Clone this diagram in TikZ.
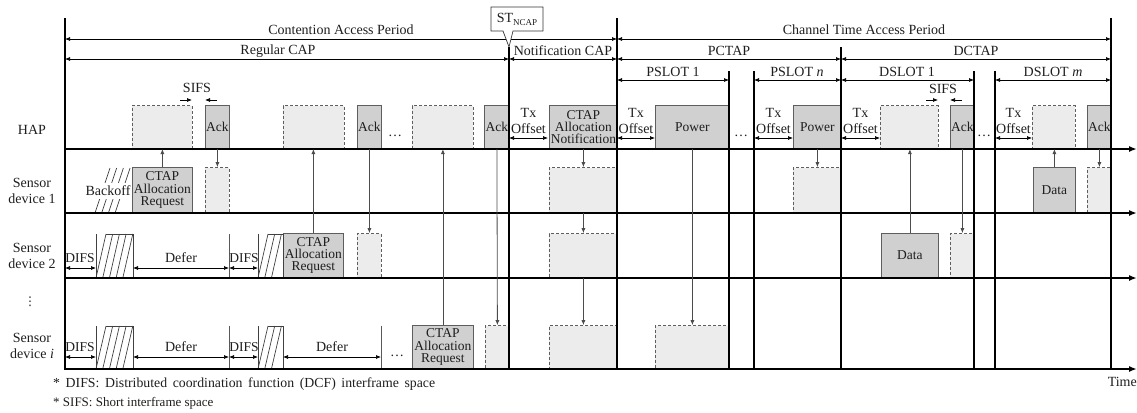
\documentclass[tikz,border=0pt]{standalone}
\usepackage{fontspec}
\setmainfont{Liberation Serif}
\newfontfamily\djv{DejaVu Sans}
\usetikzlibrary{arrows.meta}
\definecolor{gfill}{HTML}{D0D0D0}
\definecolor{gdraw}{HTML}{5E5E5E}
\definecolor{dfill}{HTML}{ECECEC}
\definecolor{ink}{HTML}{1E1E1E}
\newcommand\hatchbox[5]{%
  \draw[hatchline] (#1,#3)--(#1,#4) (#2,#3)--(#2,#4) (#1+10,#3)--(#2,#3);
  \foreach \k in {1,...,#5} \draw[hatchline] ({#1+(\k-1)*6.7},#4) -- ({#1+10+(\k-1)*6.7},#3);}
\begin{document}
\begin{tikzpicture}[x=1pt,y=-1pt,
  every node/.style={font=\fontsize{14}{14}\selectfont, text=ink, inner sep=0pt},
  tlaxis/.style={line width=1.8pt, draw=black, -{Latex[length=8pt,width=6pt]}},
  perline/.style={line width=1.5pt, draw=black},
  tickline/.style={line width=0.7pt, draw=black!65},
  dimline/.style={line width=0.7pt, draw=black, {Latex[length=5pt,width=4pt]}-{Latex[length=5pt,width=4pt]}},
  sigarrow/.style={line width=0.8pt, draw=black!70, -{Latex[length=5pt,width=4pt]}},
  hatchline/.style={line width=0.7pt, draw=black!75},
  gbox/.style={draw=gdraw, fill=gfill, line width=0.8pt, anchor=south west, align=center, font=\fontsize{13.5}{12.3}\selectfont},
  dbox/.style={draw=gdraw, fill=dfill, dash pattern=on 3pt off 2pt, line width=0.8pt, anchor=south west},
  lab/.style={align=center, font=\fontsize{14}{16}\selectfont},
]
\useasboundingbox (0,0) rectangle (1137,412);
\coordinate (hapy) at (0,149);

% ---------- Backoff (sensor 1)
\foreach \k in {0,...,3} \draw[hatchline] ({95+6.7*\k},213) -- ({110+6.7*\k},168);
\node[fill=white, inner xsep=0.5pt, inner ysep=3pt] (bo) at (108,191) {Backoff};

% ---------- HAP row boxes
\node[dbox, minimum width=60, minimum height=43] (hd1) at (132,149) {};
\node[gbox, minimum width=24, minimum height=43] (ha1) at (205,149) {Ack};
\node[dbox, minimum width=61, minimum height=43] (hd2) at (283,149) {};
\node[gbox, minimum width=24, minimum height=43] (ha2) at (357,149) {Ack};
\node[dbox, minimum width=61, minimum height=43] (hd3) at (412,149) {};
\node[gbox, minimum width=25, minimum height=43] (ha3) at (484,149) {Ack};
\node[gbox, minimum width=68, minimum height=43] (hn) at (549,149) {CTAP\\Allocation\\Notification};
\node[gbox, minimum width=74, minimum height=43] (hp1) at (655,149) {Power};
\node[gbox, minimum width=48, minimum height=43] (hpn) at (793,149) {Power};
\node[dbox, minimum width=58, minimum height=43] (hd4) at (880,149) {};
\node[gbox, minimum width=24, minimum height=43] (ha4) at (950,149) {Ack};
\node[dbox, minimum width=43, minimum height=43] (hd5) at (1032,149) {};
\node[gbox, minimum width=24, minimum height=43] (ha5) at (1087,149) {Ack};

% ---------- Sensor 1 boxes
\node[gbox, minimum width=60, minimum height=45] (s1r) at (132,213) {CTAP\\Allocation\\Request};
\node[dbox, minimum width=24, minimum height=45] (s1a) at (205,213) {};
\node[dbox, minimum width=68, minimum height=45] (s1n) at (549,213) {};
\node[dbox, minimum width=48, minimum height=45] (s1p) at (793,213) {};
\node[gbox, minimum width=42, minimum height=45] (s1d) at (1033,213) {Data};
\node[dbox, minimum width=24, minimum height=45] (s1k) at (1087,213) {};

% ---------- Sensor 2 boxes
\node[gbox, minimum width=60, minimum height=44] (s2r) at (283,278) {CTAP\\Allocation\\Request};
\node[dbox, minimum width=24, minimum height=44] (s2a) at (357,278) {};
\node[dbox, minimum width=68, minimum height=44] (s2n) at (549,278) {};
\node[gbox, minimum width=57, minimum height=44] (s2d) at (881,278) {Data};
\node[dbox, minimum width=24, minimum height=44] (s2k) at (950,278) {};

% ---------- Sensor i boxes
\node[gbox, minimum width=61, minimum height=43] (sir) at (412,369) {CTAP\\Allocation\\Request};
\node[dbox, minimum width=24, minimum height=43] (sia) at (485,369) {};
\node[dbox, minimum width=68, minimum height=43] (sin) at (549,369) {};
\node[dbox, minimum width=74, minimum height=43] (sip) at (655,369) {};

% ---------- hatched contention windows
\hatchbox{96}{133}{234}{278}{5}
\hatchbox{258}{283}{234}{278}{3}
\hatchbox{96}{133}{326}{369}{5}
\hatchbox{258}{283}{326}{369}{3}
\draw[tickline] (229,234) -- (229,278);
\draw[tickline] (229,326) -- (229,369);
\draw[tickline] (381,326) -- (381,369);

% ---------- period lines
\draw[perline] (65,18) -- (65,370);
\draw[perline] (509,47) -- (509,369);
\draw[perline] (617,18) -- (617,369);
\draw[perline] (729,71) -- (729,369);
\draw[perline] (754,71) -- (754,369);
\draw[perline] (841,47) -- (841,369);
\draw[perline] (974,71) -- (974,369);
\draw[perline] (995,71) -- (995,369);
\draw[perline] (1111,18) -- (1111,369);

% ---------- time axes
\draw[tlaxis] (64,149) -- (1137,149);
\draw[tlaxis] (64,213) -- (1137,213);
\draw[tlaxis] (64,278) -- (1137,278);
\draw[tlaxis] (64,369) -- (1137,369);

% ---------- period dimension lines
\draw[dimline] (65,39) -- (617,39);
\node (tcap) at (341,30) {Contention Access Period};
\draw[dimline] (617,39) -- (1111,39);
\node (tctap) at (864,30) {Channel Time Access Period};
\draw[dimline] (65,59) -- (509,59);
\node (treg) at (278,51) {Regular CAP};
\draw[dimline] (509,59) -- (617,59);
\node (tnot) at (563,51) {Notification CAP};
\draw[dimline] (617,59) -- (841,59);
\node (tp) at (729,51) {PCTAP};
\draw[dimline] (841,59) -- (1111,59);
\node (td) at (976,51) {DCTAP};
\draw[dimline] (617,80) -- (729,80);
\node (tps1) at (673,72) {PSLOT 1};
\draw[dimline] (754,80) -- (841,80);
\node (tpsn) at (797,72) {PSLOT \textit{n}};
\draw[dimline] (841,80) -- (974,80);
\node (tds1) at (907,72) {DSLOT 1};
\draw[dimline] (995,80) -- (1111,80);
\node (tdsm) at (1053,72) {DSLOT \textit{m}};

% ---------- ST_NCAP callout
\draw[fill=white, line width=0.7pt, draw=black!80] (491,7) -- (543,7) -- (543,31) -- (513,31) -- (509,47) -- (503,31) -- (491,31) -- cycle;
\node (st) at (517,19) {ST\raisebox{-3pt}{\fontsize{9}{9}\selectfont NCAP}};

% ---------- Tx offsets
\foreach \a/\b/\n in {509/548/o1, 617/655/o2, 754/793/o3, 841/880/o4, 995/1032/o5}{
  \draw[dimline] (\a,138) -- (\b,138);
  \node (\n tx) at ({(\a+\b)/2},113) {Tx};
  \node (\n off) at ({(\a+\b)/2},129) {Offset};
}

% ---------- SIFS
\node (sifs1) at (197,88) {SIFS};
\draw[line width=0.7pt, -{Latex[length=5pt,width=4pt]}] (180,100) -- (192,100);
\draw[line width=0.7pt, -{Latex[length=5pt,width=4pt]}] (217,100) -- (205,100);
\node (sifs2) at (943,89) {SIFS};
\draw[line width=0.7pt, -{Latex[length=5pt,width=4pt]}] (926,100) -- (938,100);
\draw[line width=0.7pt, -{Latex[length=5pt,width=4pt]}] (962,100) -- (950,100);

% ---------- dots
\node (dd1) at (395,136) {\ldots};
\node (dd2) at (741,136) {\ldots};
\node (dd3) at (984,136) {\ldots};
\node (dd4) at (397,356) {\ldots};

% ---------- DIFS / Defer
\draw[dimline] (65,268) -- (96,268);   \node[font=\fontsize{13.5}{13.5}\selectfont] (df1) at (80,258) {DIFS};
\draw[dimline] (133,268) -- (229,268); \node (de1) at (181,258) {Defer};
\draw[dimline] (229,268) -- (258,268); \node[font=\fontsize{13.5}{13.5}\selectfont] (df2) at (244,258) {DIFS};
\draw[dimline] (65,357) -- (96,357);   \node[font=\fontsize{13.5}{13.5}\selectfont] (df3) at (80,347) {DIFS};
\draw[dimline] (133,357) -- (229,357); \node (de2) at (181,347) {Defer};
\draw[dimline] (229,357) -- (258,357); \node[font=\fontsize{13.5}{13.5}\selectfont] (df4) at (244,347) {DIFS};
\draw[dimline] (283,357) -- (381,357); \node (de3) at (332,347) {Defer};

% ---------- signals
\draw[sigarrow] (s1r.north) -- (s1r.north |- hapy);
\draw[sigarrow] (ha1.south) -- (s1a.north);
\draw[sigarrow] (s2r.north) -- (s2r.north |- hapy);
\draw[sigarrow] (ha2.south) -- (s2a.north);
\draw[sigarrow] (sir.north) -- (sir.north |- hapy);
\draw[sigarrow] (ha3.south) -- (sia.north);
\draw[sigarrow] (hn.south) -- (s1n.north);
\draw[sigarrow] (s1n.south) -- (s2n.north);
\draw[sigarrow] (s2n.south) -- (sin.north);
\draw[sigarrow] (hp1.south) -- (sip.north);
\draw[sigarrow] (hpn.south) -- (s1p.north);
\draw[sigarrow] (s2d.north) -- (s2d.north |- hapy);
\draw[sigarrow] (ha4.south) -- (s2k.north);
\draw[sigarrow] (s1d.north) -- (s1d.north |- hapy);
\draw[sigarrow] (ha5.south) -- (s1k.north);

% ---------- row labels
\node (lhap) at (32,130) {HAP};
\node[lab] (ls1) at (32,191) {Sensor\\device 1};
\node[lab] (ls2) at (32,256) {Sensor\\device 2};
\node[font=\djv\fontsize{12}{12}\selectfont] (lvd) at (30,302) {⋮};
\node[lab] (lsi) at (32,346) {Sensor\\device \textit{i}};

% ---------- footnotes
\node[anchor=west, font=\fontsize{13.8}{13.8}\selectfont] (fn1) at (53,384) {\makebox[382pt][s]{* DIFS: Distributed coordination function (DCF) interframe space}};
\node[anchor=west, font=\fontsize{13}{13}\selectfont] (fn2) at (53,403) {* SIFS: Short interframe space};
\node[anchor=east] (time) at (1137,382) {Time};
\end{tikzpicture}
\end{document}
